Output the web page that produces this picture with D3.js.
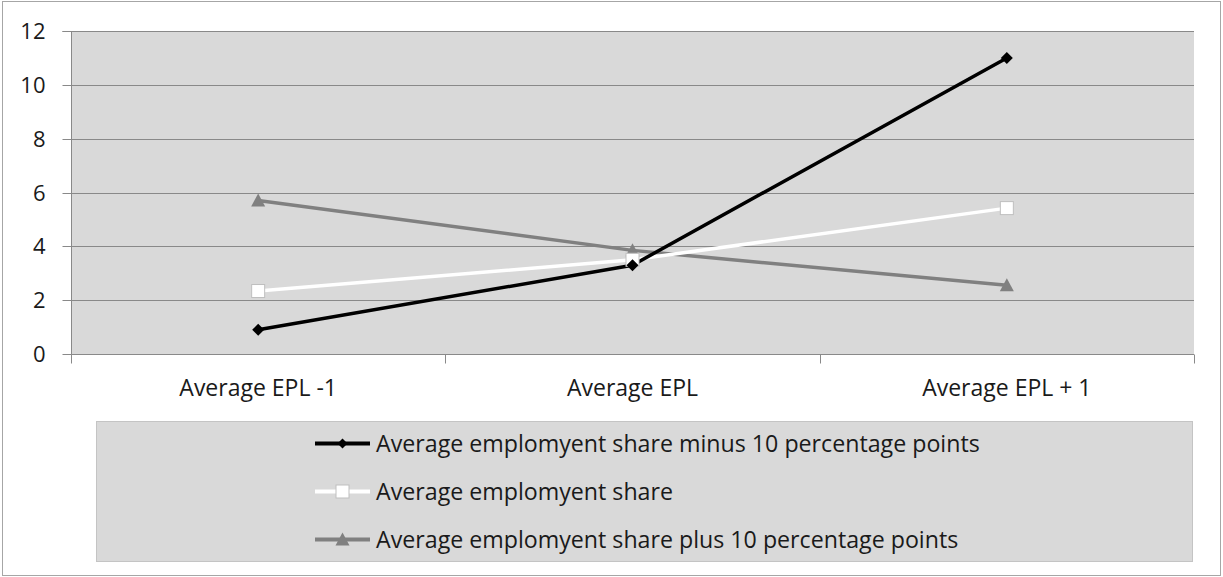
<!DOCTYPE html>
<html>
<head>
<meta charset="utf-8">
<script src="https://cdn.jsdelivr.net/npm/d3@7"></script>
<style>
  html, body { margin: 0; padding: 0; background: #fff; }
  svg { display: block; }
  text { font-family: "Open Sans", Lato, sans-serif; fill: #1a1a1a; }
</style>
</head>
<body>
<svg id="chart" width="1223" height="577"></svg>
<script>
const categories = ["Average EPL -1", "Average EPL", "Average EPL + 1"];
const seriesNames = [
  "Average emplomyent share minus 10 percentage points",
  "Average emplomyent share",
  "Average emplomyent share plus 10 percentage points"
];
const minus10 = [0.9, 3.3, 11.0];
const average = [2.34, 3.5, 5.42];
const plus10 = [5.7, 3.85, 2.55];
const yTicks = [0, 2, 4, 6, 8, 10, 12];

const seriesValues = [minus10, average, plus10];
const seriesStyle = [
  { color: "#000000", marker: "diamond" },
  { color: "#ffffff", marker: "square" },
  { color: "#808080", marker: "triangle" }
];

const svg = d3.select("#chart");
const W = 1223, H = 577;
const plot = { left: 71, right: 1194, top: 31, bottom: 354 };

// outer border
svg.append("rect").attr("x", 2.5).attr("y", 1.5).attr("width", W - 5).attr("height", H - 3)
  .attr("fill", "#fff").attr("stroke", "#a6a6a6").attr("stroke-width", 1);

const x = d3.scaleBand().domain(categories).range([plot.left, plot.right]).padding(0);
const y = d3.scaleLinear().domain([0, 12]).range([plot.bottom, plot.top]);

// plot background
svg.append("rect").attr("x", plot.left).attr("y", plot.top)
  .attr("width", plot.right - plot.left).attr("height", plot.bottom - plot.top)
  .attr("fill", "#d9d9d9");

// gridlines
svg.append("g").selectAll("line").data(yTicks.filter(d => d > 0)).join("line")
  .attr("x1", plot.left).attr("x2", plot.right)
  .attr("y1", d => Math.round(y(d)) + 0.5).attr("y2", d => Math.round(y(d)) + 0.5)
  .attr("stroke", "#898989").attr("stroke-width", 1);

// y axis
const yAxis = d3.axisLeft(y).tickValues(yTicks).tickSize(9).tickPadding(17).tickFormat(d3.format("d"));
const gy = svg.append("g").attr("transform", `translate(${plot.left + 0.5},0)`).call(yAxis);
gy.select(".domain").attr("stroke", "#898989").attr("d", `M-9,${plot.top + 0.5}H0V${plot.bottom + 8}`);
gy.selectAll(".tick line").attr("stroke", "#898989");
gy.selectAll(".tick").attr("transform", d => `translate(0,${Math.round(y(d)) + 0.5})`);
gy.selectAll(".tick text").style("font-size", "22px").attr("fill", "#1a1a1a").attr("dy", "0.35em");

// x axis
const xBoundaries = [plot.left, ...categories.map(c => x(c) + x.bandwidth())];
const xAxis = d3.axisBottom(x).tickSize(0).tickPadding(0);
const gx = svg.append("g").attr("transform", `translate(0,${plot.bottom + 0.5})`).call(xAxis);
gx.select(".domain").attr("stroke", "#898989").attr("d", `M${plot.left},0H${plot.right}`);
gx.selectAll(".tick text").style("font-size", "23px").attr("fill", "#1a1a1a")
  .attr("dy", null).attr("y", 41);
gx.selectAll(".xb").data(xBoundaries).join("line").attr("class", "xb")
  .attr("x1", d => Math.round(d) + 0.5).attr("x2", d => Math.round(d) + 0.5)
  .attr("y1", 0).attr("y2", 9).attr("stroke", "#898989");

// markers
function drawMarker(g, type, color, size) {
  if (type === "diamond") {
    g.append("path").attr("d", `M0,${-size}L${size},0L0,${size}L${-size},0Z`).attr("fill", "#000");
  } else if (type === "square") {
    g.append("rect").attr("x", -size).attr("y", -size).attr("width", 2 * size).attr("height", 2 * size)
      .attr("fill", "#fff").attr("stroke", "#bfbfbf").attr("stroke-width", 1);
  } else {
    g.append("path").attr("d", `M0,${-size - 1}L${size + 1},${size}L${-size - 1},${size}Z`).attr("fill", "#808080");
  }
}

const line = d3.line().x((d, i) => x(categories[i]) + x.bandwidth() / 2).y(d => y(d));
const drawOrder = [2, 1, 0];
drawOrder.forEach(si => {
  svg.append("path").datum(seriesValues[si]).attr("d", line)
    .attr("fill", "none").attr("stroke", seriesStyle[si].color).attr("stroke-width", 3.5)
    .attr("stroke-linejoin", "round");
});
drawOrder.forEach(si => {
  seriesValues[si].forEach((v, i) => {
    const g = svg.append("g").attr("transform", `translate(${x(categories[i]) + x.bandwidth() / 2},${y(v)})`);
    drawMarker(g, seriesStyle[si].marker, seriesStyle[si].color, si === 1 ? 6.5 : 6);
  });
});

// legend
const lg = svg.append("g");
lg.append("rect").attr("x", 96.5).attr("y", 421.5).attr("width", 1096).attr("height", 140)
  .attr("fill", "#d9d9d9").attr("stroke", "#c4c4c4").attr("stroke-width", 1);
const legendRows = [443.5, 491.5, 539.5];
seriesNames.forEach((name, i) => {
  const gy2 = legendRows[i];
  lg.append("line").attr("x1", 315).attr("x2", 370).attr("y1", gy2).attr("y2", gy2)
    .attr("stroke", seriesStyle[i].color).attr("stroke-width", 3.8);
  const mg = lg.append("g").attr("transform", `translate(342.5,${gy2})`);
  drawMarker(mg, seriesStyle[i].marker, seriesStyle[i].color, i === 1 ? 6.5 : (i === 0 ? 5 : 6));
  lg.append("text").attr("x", 376).attr("y", gy2 + 8.3).style("font-size", "23.2px").text(name);
});
</script>
</body>
</html>
